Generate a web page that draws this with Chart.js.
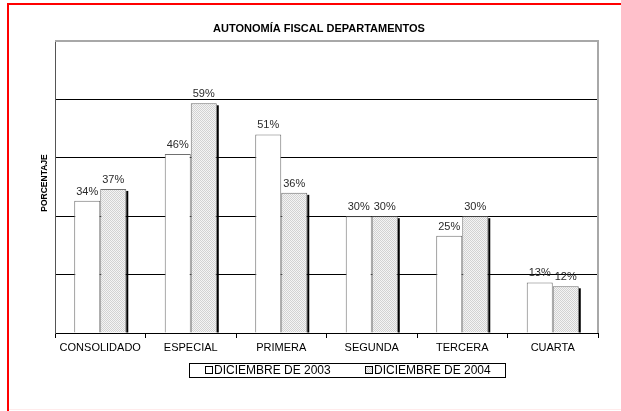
<!DOCTYPE html>
<html>
<head>
<meta charset="utf-8">
<script src="https://cdn.jsdelivr.net/npm/chart.js@4.4.1/dist/chart.umd.min.js"></script>
<style>
html,body{margin:0;padding:0;background:#fff;}
canvas{display:block;}
</style>
</head>
<body>
<canvas id="c" width="621" height="411"></canvas>
<script>
const chartTitle = 'AUTONOMÍA FISCAL DEPARTAMENTOS';
const yAxisTitle = 'PORCENTAJE';
const categories = ['CONSOLIDADO', 'ESPECIAL', 'PRIMERA', 'SEGUNDA', 'TERCERA', 'CUARTA'];
const seriesNames = ['DICIEMBRE DE 2003', 'DICIEMBRE DE 2004'];
const dic2003 = [34, 46, 51, 30, 25, 13];
const dic2004 = [37, 59, 36, 30, 30, 12];
const yMin = 0, yMax = 75, yStep = 15;

const FONT = "'Liberation Sans', Arial, Helvetica, sans-serif";
Chart.defaults.font.family = FONT;

function makePattern() {
  const p = document.createElement('canvas');
  p.width = 2; p.height = 2;
  const g = p.getContext('2d');
  g.fillStyle = '#f4f4f4'; g.fillRect(0, 0, 2, 2);
  g.fillStyle = '#d2d2d2'; g.fillRect(0, 0, 1, 1); g.fillRect(1, 1, 1, 1);
  return document.getElementById('c').getContext('2d').createPattern(p, 'repeat');
}
const stipple = makePattern();

const decor = {
  id: 'decor',
  beforeDatasetsDraw(chart) {
    const ctx = chart.ctx, a = chart.chartArea;
    ctx.save();
    ctx.fillStyle = '#a8a8a8';
    ctx.fillRect(a.left, a.top - 1, a.right - a.left + 1, 2);
    ctx.fillRect(a.right - 1, a.top - 1, 2, a.bottom - a.top + 1);
    ctx.restore();
  },
  afterDatasetsDraw(chart) {
    const ctx = chart.ctx;
    ctx.save();
    const m1 = chart.getDatasetMeta(1);
    ctx.fillStyle = '#000';
    m1.data.forEach(el => {
      const x = el.x + el.width / 2;
      ctx.fillRect(x, el.y + 2, 2, el.base - el.y - 2);
    });
    ctx.font = '11px ' + FONT;
    ctx.fillStyle = '#2a2a2a';
    ctx.textAlign = 'center';
    ctx.textBaseline = 'middle';
    chart.data.datasets.forEach((ds, i) => {
      chart.getDatasetMeta(i).data.forEach((el, j) => {
        ctx.fillText(ds.data[j] + '%', el.x, el.y - 9);
      });
    });
    ctx.restore();
  },
  afterDraw(chart) {
    const ctx = chart.ctx;
    ctx.save();
    ctx.fillStyle = '#000';
    ctx.font = 'bold 11px ' + FONT;
    ctx.textAlign = 'center';
    ctx.textBaseline = 'middle';
    ctx.fillText(chartTitle, 319, 29);
    ctx.save();
    ctx.translate(45, 183);
    ctx.rotate(-Math.PI / 2);
    ctx.font = 'bold 8.5px ' + FONT;
    ctx.fillText(yAxisTitle, 0, 0);
    ctx.restore();
    const lx = 189, ly = 363, lw = 316, lh = 14;
    ctx.strokeStyle = '#000';
    ctx.lineWidth = 1;
    ctx.strokeRect(lx + 0.5, ly + 0.5, lw, lh);
    ctx.font = '12px ' + FONT;
    ctx.textAlign = 'left';
    const items = [{x: 205, fill: '#ffffff'}, {x: 365, fill: stipple}];
    items.forEach((it, i) => {
      ctx.fillStyle = it.fill;
      ctx.fillRect(it.x, ly + 3, 7, 7);
      ctx.strokeStyle = '#000';
      ctx.strokeRect(it.x + 0.5, ly + 3.5, 7, 7);
      ctx.fillStyle = '#000';
      ctx.fillText(seriesNames[i], it.x + 9, ly + 7.5);
    });
    ctx.fillStyle = '#ff0000';
    ctx.fillRect(7, 3, 614, 2);
    ctx.fillRect(7, 3, 2, 408);
    ctx.fillStyle = 'rgba(255,0,0,0.08)';
    ctx.fillRect(9, 409, 612, 1);
    ctx.restore();
  }
};

new Chart(document.getElementById('c'), {
  type: 'bar',
  data: {
    labels: categories,
    datasets: [
      { label: seriesNames[0], data: dic2003, backgroundColor: '#ffffff', borderColor: '#707070', borderWidth: 1 },
      { label: seriesNames[1], data: dic2004, backgroundColor: stipple, borderColor: '#707070', borderWidth: 1 }
    ]
  },
  options: {
    responsive: false,
    animation: false,
    devicePixelRatio: 1,
    layout: { padding: { left: 55, top: 41, right: 23, bottom: 48 } },
    datasets: { bar: { categoryPercentage: 0.575, barPercentage: 1.0 } },
    plugins: { legend: { display: false }, title: { display: false }, tooltip: { enabled: false } },
    scales: {
      x: {
        grid: { offset: true, drawOnChartArea: false, drawTicks: true, tickLength: 5, color: '#000' },
        border: { color: '#000', width: 1 },
        ticks: { color: '#000', font: { size: 11 }, padding: 3, maxRotation: 0 },
        afterFit(s) { s.height = 30; }
      },
      y: {
        min: yMin, max: yMax,
        ticks: { display: false, stepSize: yStep },
        grid: { drawTicks: false, color: c => (c.tick && c.tick.value === yMax) ? 'rgba(0,0,0,0)' : '#000' },
        border: { display: true, color: '#555', width: 1 },
        afterFit(s) { s.width = 0; }
      }
    }
  },
  plugins: [decor]
});
</script>
</body>
</html>
